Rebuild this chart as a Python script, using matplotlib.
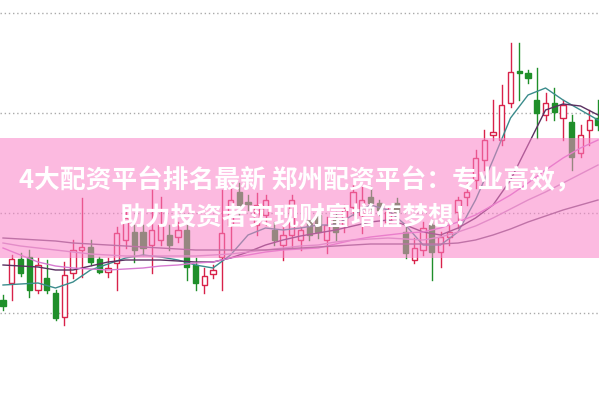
import numpy as np
import matplotlib.pyplot as plt
from matplotlib.patches import Rectangle

plt.rcParams['font.family'] = ['Noto Sans CJK SC', 'DejaVu Sans']

# K线数据 (开, 高, 低, 收)
opens = [9.13, 9.30, 9.54, 9.56, 9.23, 9.35, 9.20, 8.96, 9.40, 9.63, 9.66, 9.54, 9.41, 9.50,
         9.73, 9.81, 9.81, 9.68, 9.73, 9.78, 9.76, 9.83, 9.48, 9.28, 9.39, 9.56, 9.88, 10.21,
         10.11, 9.88, 9.98, 9.83, 9.68, 9.78, 9.73, 9.93, 9.98, 9.73, 9.95, 9.88, 10.06, 9.98,
         10.16, 10.10, 9.91, 10.10, 9.81, 9.53, 9.63, 9.88, 9.61, 9.76, 10.01, 10.16, 10.33,
         10.53, 10.78, 10.73, 11.10, 11.42, 11.40, 11.13, 10.98, 11.10, 10.95, 10.91, 10.60,
         10.83, 10.95]
highs = [9.18, 9.58, 9.60, 9.63, 9.55, 9.53, 9.23, 9.51, 9.73, 10.15, 9.73, 9.56, 9.55, 9.86,
         10.03, 9.88, 9.88, 10.23, 10.16, 9.88, 9.91, 9.88, 9.55, 9.45, 9.48, 10.23, 10.30, 10.30,
         10.18, 10.20, 10.18, 9.91, 9.88, 10.18, 9.88, 9.98, 10.03, 9.96, 10.01, 10.08, 10.28,
         10.26, 10.26, 10.13, 10.05, 10.15, 9.88, 9.75, 9.91, 9.93, 9.81, 9.93, 10.16, 10.30,
         10.63, 10.83, 11.13, 11.28, 11.70, 11.70, 11.43, 11.45, 11.20, 11.25, 11.13, 10.98,
         10.88, 11.03, 11.13]
lows = [9.03, 9.13, 9.37, 9.16, 9.20, 9.20, 8.93, 8.88, 9.35, 9.36, 9.48, 9.40, 9.36, 9.23,
        9.65, 9.51, 9.58, 9.40, 9.68, 9.63, 9.71, 9.33, 9.23, 9.20, 9.35, 9.23, 9.63, 9.98,
        10.03, 9.78, 9.88, 9.68, 9.53, 9.66, 9.63, 9.73, 9.75, 9.60, 9.73, 9.81, 9.98, 9.80,
        10.03, 9.98, 9.88, 9.88, 9.55, 9.50, 9.58, 9.33, 9.46, 9.68, 9.85, 10.08, 10.25, 10.43,
        10.73, 10.68, 11.06, 11.13, 11.30, 10.75, 10.93, 10.93, 10.73, 10.43, 10.56, 10.68,
        10.83]
closes = [9.07, 9.54, 9.40, 9.23, 9.48, 9.23, 8.95, 9.38, 9.63, 9.66, 9.51, 9.41, 9.45, 9.80,
          9.95, 9.63, 9.65, 9.83, 9.88, 9.68, 9.83, 9.46, 9.30, 9.37, 9.43, 9.80, 10.13, 10.08,
          10.09, 10.08, 10.13, 9.73, 9.78, 10.13, 9.83, 9.78, 9.81, 9.88, 9.81, 10.03, 10.21,
          10.13, 10.10, 10.03, 10.01, 10.01, 9.60, 9.65, 9.85, 9.61, 9.76, 9.81, 10.13, 10.21,
          10.55, 10.73, 10.81, 11.08, 11.41, 11.40, 11.35, 11.00, 11.10, 11.01, 11.08, 10.56,
          10.78, 10.93, 10.88]

# 均线 (每2根K线取一个点)
ma_idx = list(range(0, 69, 2))
ma5 = [9.28, 9.29, 9.30, 9.25, 9.31, 9.43, 9.49, 9.55, 9.58, 9.56, 9.53, 9.48, 9.45, 9.58,
       9.78, 9.85, 9.83, 9.85, 9.88, 9.88, 9.98, 10.08, 10.03, 9.88, 9.68, 9.68, 9.81, 10.13,
       10.53, 10.95, 11.18, 11.25, 11.13, 11.03, 10.93]
ma10 = [9.48, 9.47, 9.46, 9.43, 9.43, 9.47, 9.51, 9.53, 9.53, 9.53, 9.52, 9.51, 9.51, 9.55,
        9.61, 9.68, 9.73, 9.77, 9.80, 9.83, 9.87, 9.91, 9.93, 9.88, 9.81, 9.78, 9.85, 9.95,
        10.08, 10.33, 10.68, 11.03, 11.09, 11.07, 10.98]
ma20 = [9.65, 9.58, 9.51, 9.47, 9.45, 9.44, 9.43, 9.44, 9.45, 9.47, 9.48, 9.50, 9.51, 9.55,
        9.58, 9.61, 9.63, 9.64, 9.65, 9.69, 9.73, 9.76, 9.78, 9.80, 9.81, 9.85, 9.91, 9.98,
        10.08, 10.18, 10.30, 10.43, 10.55, 10.65, 10.73]
ma30 = [9.70, 9.67, 9.65, 9.63, 9.61, 9.59, 9.58, 9.57, 9.57, 9.57, 9.57, 9.57, 9.58, 9.59,
        9.61, 9.63, 9.65, 9.67, 9.68, 9.71, 9.73, 9.74, 9.75, 9.74, 9.73, 9.76, 9.81, 9.87,
        9.95, 10.04, 10.13, 10.21, 10.30, 10.39, 10.48]
ma60 = [9.75, 9.74, 9.73, 9.72, 9.70, 9.69, 9.68, 9.67, 9.66, 9.65, 9.64, 9.63, 9.63, 9.63,
        9.63, 9.63, 9.64, 9.65, 9.66, 9.67, 9.68, 9.69, 9.69, 9.69, 9.69, 9.69, 9.70, 9.73,
        9.78, 9.84, 9.91, 9.97, 10.03, 10.08, 10.13]

grid_levels = [9, 10, 11, 12]
title_lines = ['4大配资平台排名最新 郑州配资平台：专业高效，', '助力投资者实现财富增值梦想！']

red = '#d8224a'
green = '#1f8f2a'

fig = plt.figure(figsize=(5.99, 3.97), dpi=100)
ax = fig.add_axes([0, 0, 1, 1])
ax.set_xlim(-0.343, 68.11)
ax.set_ylim(8.16, 12.13)
ax.axis('off')

for g in grid_levels:
    ax.axhline(g, color='#aaaaaa', lw=1, ls=(0, (1, 2)), zorder=1)

w = 0.62
for i in range(len(opens)):
    o, h, l, c = opens[i], highs[i], lows[i], closes[i]
    col = red if c >= o else green
    ax.plot([i, i], [l, h], color=col, lw=1, zorder=2)
    if c >= o:
        ax.add_patch(Rectangle((i - w / 2, o), w, max(c - o, 0.01), facecolor='white',
                               edgecolor=col, lw=1, zorder=3))
    else:
        ax.add_patch(Rectangle((i - w / 2, c), w, max(o - c, 0.01), facecolor=col,
                               edgecolor=col, lw=1, zorder=3))

ax.plot(ma_idx, ma5, color='#3b8c8c', lw=1, zorder=4)
ax.plot(ma_idx, ma10, color='#5a3060', lw=1, zorder=4)
ax.plot(ma_idx, ma20, color='#d77ad0', lw=1, zorder=4)
ax.plot(ma_idx, ma30, color='#c89ac8', lw=1, zorder=4)
ax.plot(ma_idx, ma60, color='#7a6080', lw=1, zorder=4)

# 粉色横幅
ax.axhspan(9.55, 10.75, color='#fa82c8', alpha=0.55, lw=0, zorder=5)

fig.text(0.5, 1 - 181 / 397, title_lines[0], ha='center', va='center', color='white',
         fontsize=18.5, fontweight='bold', zorder=10)
fig.text(0.5, 1 - 217 / 397, title_lines[1], ha='center', va='center', color='white',
         fontsize=18.5, fontweight='bold', zorder=10)

fig.savefig('out.png', dpi=100)
